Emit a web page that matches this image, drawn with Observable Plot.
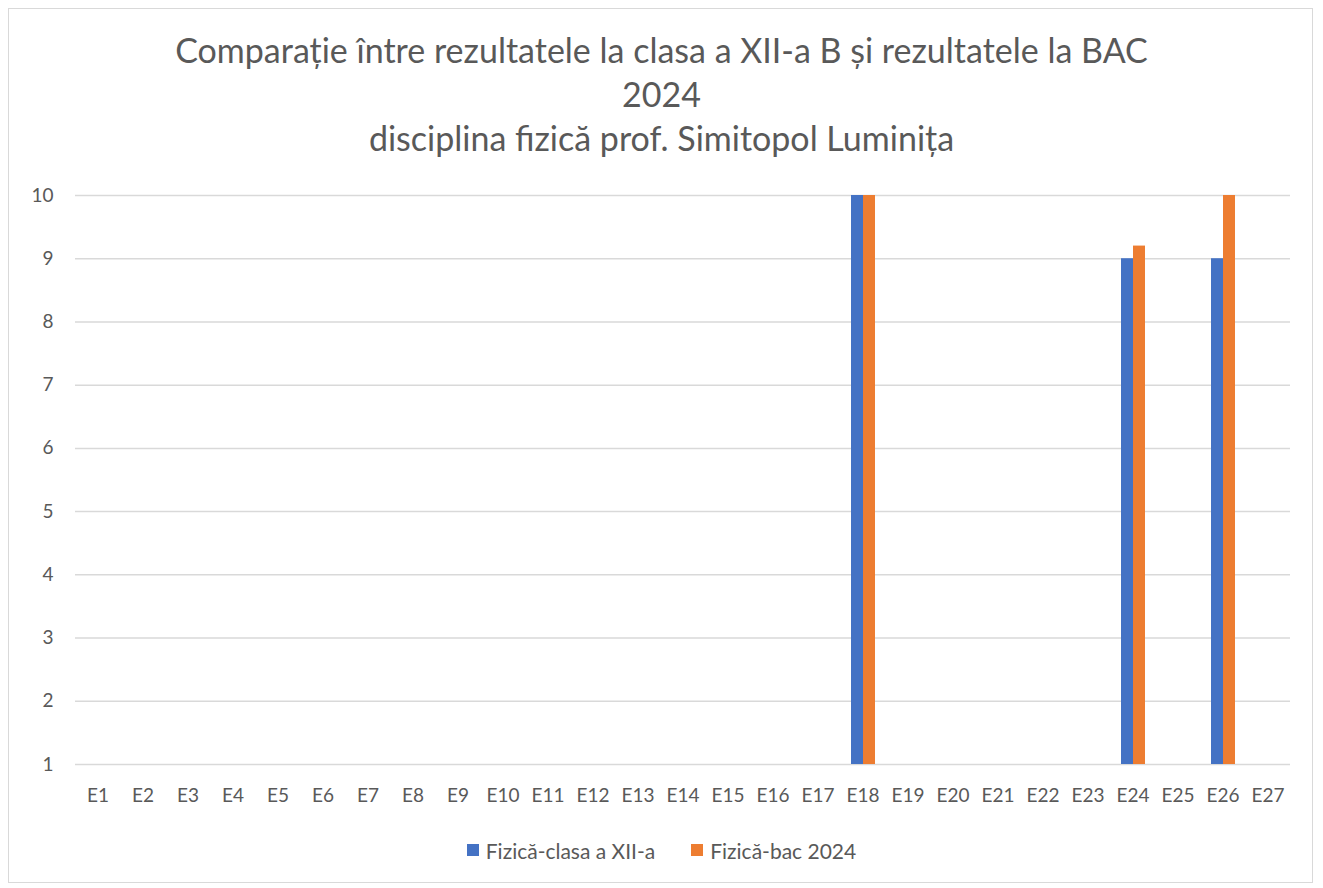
<!DOCTYPE html>
<html>
<head>
<meta charset="utf-8">
<script src="https://cdn.jsdelivr.net/npm/d3@7"></script>
<script src="https://cdn.jsdelivr.net/npm/@observablehq/plot@0.6"></script>
<style>
  html, body { margin: 0; padding: 0; background: #fff; }
  #wrap { position: relative; width: 1323px; height: 888px; overflow: hidden; font-family: "Lato", "Liberation Sans", sans-serif; }
  #frame { position: absolute; left: 8px; top: 8px; width: 1305px; height: 875px; border: 1.5px solid #d9d9d9; box-sizing: border-box; }
  #title { position: absolute; left: 0; top: 28px; width: 1323px; text-align: center; color: #595959; font-size: 34px; line-height: 44px; }
  #chart { position: absolute; left: 0; top: 0; }
  #legend { position: absolute; left: 0; top: 835px; width: 1323px; text-align: center; color: #595959; font-size: 21px; }
  .item { display: inline-flex; align-items: center; margin: 0 18px; }
  .sw { width: 12px; height: 12px; display: inline-block; margin-right: 7px; }
</style>
</head>
<body>
<div id="wrap">
  <div id="frame"></div>
  <div id="chart"></div>
  <div id="title"></div>
  <div id="legend"></div>
</div>
<script>
const titleLines = ["Comparație între rezultatele la clasa a XII-a B și rezultatele la BAC", "2024", "disciplina fizică prof. Simitopol Luminița"];
const categories = Array.from({length: 27}, (_, i) => "E" + (i + 1));
const seriesNames = ["Fizică-clasa a XII-a", "Fizică-bac 2024"];
const seriesColors = ["#4472C4", "#ED7D31"];
const barCategories = ["E18", "E24", "E26"];
const clasaValues = [10, 9, 9];
const bacValues = [10, 9.2, 10];
const yTicks = [1, 2, 3, 4, 5, 6, 7, 8, 9, 10];

// one row per category and series; categories without results have no value
const data = [];
categories.forEach(c => {
  const i = barCategories.indexOf(c);
  data.push({cat: c, series: seriesNames[0], value: i >= 0 ? clasaValues[i] : null});
  data.push({cat: c, series: seriesNames[1], value: i >= 0 ? bacValues[i] : null});
});

document.getElementById("title").innerHTML = titleLines.join("<br>");
document.getElementById("legend").innerHTML = seriesNames.map((s, i) =>
  `<span class="item"><span class="sw" style="background:${seriesColors[i]}"></span>${s}</span>`).join("");

const chart = Plot.plot({
  width: 1323,
  height: 830,
  marginLeft: 69,
  marginRight: 27,
  marginTop: 195,
  marginBottom: 66,
  style: {fontFamily: "Lato, 'Liberation Sans', sans-serif", fontSize: "19px", color: "#595959", background: "transparent"},
  fx: {domain: categories, padding: 0, label: null, axis: "bottom", tickSize: 0, tickPadding: 24},
  x: {domain: seriesNames, paddingInner: 0, paddingOuter: 0.75, axis: null},
  y: {domain: [1, 10], ticks: yTicks, tickFormat: "d", label: null, tickSize: 0, tickPadding: 22},
  color: {domain: seriesNames, range: seriesColors},
  marks: [
    Plot.gridY(yTicks, {stroke: "#d9d9d9", strokeOpacity: 1, strokeWidth: 1.5}),
    Plot.barY(data, {fx: "cat", x: "series", y1: 1, y2: "value", fill: "series", filter: d => d.value != null})
  ]
});
document.getElementById("chart").appendChild(chart);
</script>
</body>
</html>
